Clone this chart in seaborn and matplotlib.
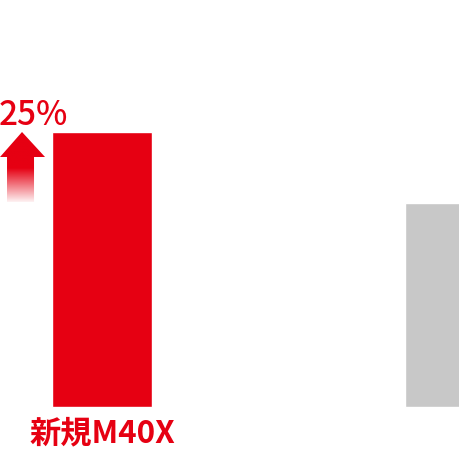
import numpy as np
import pandas as pd
import matplotlib
matplotlib.use("Agg")
import matplotlib.pyplot as plt
import seaborn as sns
from matplotlib.colors import LinearSegmentedColormap
from matplotlib.patches import Polygon

# data
models = ["新規M40X", "従来"]
values = [135, 100]
bar_colors = ["#E60012", "#C8C8C8"]
show_labels = ["新規M40X", ""]
gain_text = "25%"

sns.set_theme(style="white")
plt.rcParams['font.family'] = ['Noto Sans CJK JP', 'DejaVu Sans']

df = pd.DataFrame({"model": models, "value": values})

fig = plt.figure(figsize=(4.6, 4.6), dpi=100)
ax = fig.add_axes([0, 0, 1, 1])
sns.barplot(data=df, x="model", y="value", hue="model", palette=bar_colors,
            width=0.283, legend=False, ax=ax, saturation=1)
ax.axis("off")

# pixel helpers (pixels from top-left of the 460x460 canvas)
def px(x):
    return (x - 102) / 353

def py(y):
    return (408 - y) / 2.04

# labels under bars
for i, lab in enumerate(show_labels):
    if lab:
        ax.text(i, py(433), lab, ha="center", va="center", fontsize=22.5,
                fontweight="bold", color=bar_colors[0])

# gain text
ax.text(px(-1), py(125), gain_text, ha="left", va="baseline", fontsize=24,
        fontweight="medium", color=bar_colors[0])

# gradient arrow
arrow_pts = [(px(22), py(133)), (px(45), py(158)), (px(34), py(158)),
             (px(34), py(203)), (px(7), py(203)), (px(7), py(158)),
             (px(0), py(158))]
poly = Polygon(arrow_pts, closed=True, facecolor="none", edgecolor="none")
ax.add_patch(poly)
cmap = LinearSegmentedColormap.from_list("fade", ["#E60012", "#E60012", "#FFFFFF"])
grad = np.linspace(0, 1, 200).reshape(-1, 1)
im = ax.imshow(grad, cmap=cmap, aspect="auto", origin="upper",
               extent=(px(0), px(45), py(205), py(133)), zorder=3)
im.set_clip_path(poly)
ax.set_xlim(-0.289, 1.014)
ax.set_ylim(-25.5, 200)

fig.savefig("out.png", dpi=100)
